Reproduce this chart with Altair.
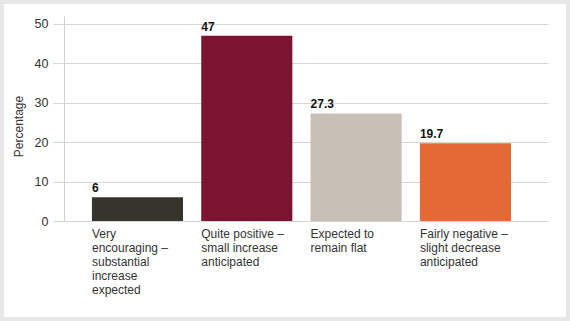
import altair as alt
import pandas as pd

categories = [
    "Very|encouraging –|substantial|increase|expected",
    "Quite positive –|small increase|anticipated",
    "Expected to|remain flat",
    "Fairly negative –|slight decrease|anticipated",
]
values = [6, 47, 27.3, 19.7]
labels = ["6", "47", "27.3", "19.7"]
colors = ["#35352b", "#7a1431", "#c7bfb5", "#e56934"]
y_ticks = [0, 10, 20, 30, 40, 50]

df = pd.DataFrame({"cat": categories, "val": values, "lab": labels, "col": colors})

FONT = "Liberation Sans"
GRID = "#d5d5d3"

x_enc = alt.X(
    "cat:N",
    sort=None,
    scale=alt.Scale(paddingInner=0.167, paddingOuter=0.297, align=0.43),
    axis=alt.Axis(
        title=None,
        domain=False,
        ticks=False,
        labelAlign="left",
        labelBaseline="top",
        labelAngle=0,
        labelOffset=-45.5,
        labelPadding=7,
        labelFontSize=12,
        labelLineHeight=14,
        labelColor="#333333",
        labelFont=FONT,
        labelBound=False,
        labelOverlap=False,
        labelExpr="split(datum.value, '|')",
    ),
)

y_enc = alt.Y(
    "val:Q",
    scale=alt.Scale(domain=[0, 52], nice=False),
    axis=alt.Axis(
        values=y_ticks,
        grid=True,
        gridColor=GRID,
        gridWidth=1,
        domain=True,
        domainColor="#cfcfcc",
        tickColor=GRID,
        tickSize=11,
        labelPadding=5,
        labelFontSize=12.5,
        labelColor="#333333",
        labelFont=FONT,
        title="Percentage",
        titleFontSize=12,
        titleFontWeight="normal",
        titleColor="#333333",
        titleFont=FONT,
        titleX=-39,
        titleY=110,
        titleBaseline="bottom",
        titleAlign="center",
        titleAngle=270,
    ),
)

bars = alt.Chart(df).mark_bar().encode(
    x=x_enc,
    y=y_enc,
    color=alt.Color("col:N", scale=None, legend=None),
)

text = alt.Chart(df).mark_text(
    align="left", baseline="alphabetic", dy=-5, fontSize=12, fontWeight="bold",
    font=FONT, color="#111111"
).encode(
    x=alt.X("cat:N", sort=None, bandPosition=0),
    y=alt.Y("val:Q"),
    text="lab:N",
)

frame = alt.Chart(alt.Data(values=[{}])).mark_rect(
    fill="transparent", stroke="#e7e7e7", strokeWidth=8
).encode(
    x=alt.value(-64), x2=alt.value(506), y=alt.value(-16), y2=alt.value(305)
)

chart = alt.layer(bars, text, frame).properties(
    width=484,
    height=205,
    background="white",
    padding={"left": 64, "top": 16, "right": 22, "bottom": 100},
    autosize=alt.AutoSizeParams(type="none"),
).configure_view(stroke=None)

chart.save("out.html", embed_options={"renderer": "svg", "actions": False})
